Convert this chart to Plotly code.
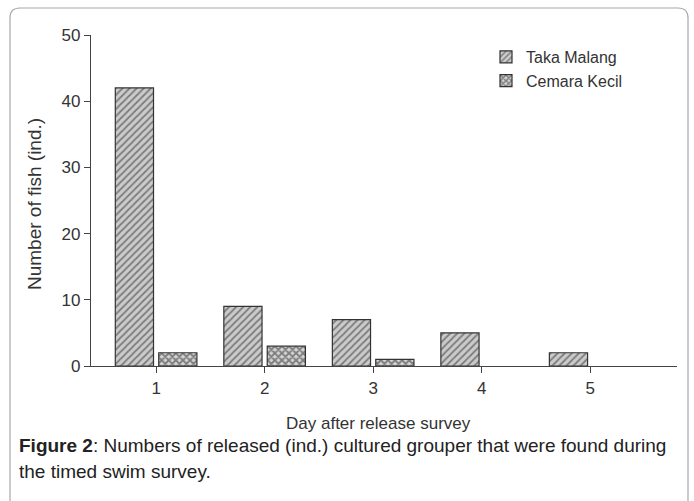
import plotly.graph_objects as go

# Survey results: fish counted on each day after release
days = [1, 2, 3, 4, 5]
taka_malang = [42, 9, 7, 5, 2]
cemara_kecil = [2, 3, 1, 0, 0]
y_ticks = [0, 10, 20, 30, 40, 50]

W, H = 694, 501
L, R, T, B = 91, 17, 35, 135
pw, ph = W - L - R, H - T - B


def px(x):
    return (x - L) / pw


def py(y):
    return (H - B - y) / ph


def outline(values):
    # no outline on empty bars so nothing shows along the axis
    return [1.2 if v > 0 else 0 for v in values]


font = "Liberation Sans, Arial, sans-serif"
ink = "#333333"

fig = go.Figure()
fig.add_trace(go.Bar(
    x=days, y=taka_malang, name="Taka Malang",
    marker=dict(color="#c9c9c9",
                line=dict(color="#333333", width=outline(taka_malang)),
                pattern=dict(shape="/", fgcolor="#2e2e2e", bgcolor="#cbcbcb",
                             size=5, solidity=0.35)),
))
fig.add_trace(go.Bar(
    x=days, y=cemara_kecil, name="Cemara Kecil",
    marker=dict(color="#b0b0b0",
                line=dict(color="#333333", width=outline(cemara_kecil)),
                pattern=dict(shape="x", fgcolor="#262626", bgcolor="#d4d4d4",
                             size=5, solidity=0.6)),
))

# Rounded frame around the figure panel (open at the bottom)
x0, x1 = px(10), px(688)
yt, yb = py(8), py(520)
rx, ry = 10 / pw, 10 / ph
frame = (f"M{x0},{yb} L{x0},{yt - ry} Q{x0},{yt} {x0 + rx},{yt} "
         f"L{x1 - rx},{yt} Q{x1},{yt} {x1},{yt - ry} L{x1},{yb}")
fig.add_shape(type="path", path=frame, xref="paper", yref="paper",
              line=dict(color="#a8a8a8", width=1.2), layer="below")

fig.add_annotation(
    x=px(17), y=py(445), xref="paper", yref="paper", xanchor="left", yanchor="middle",
    showarrow=False, align="left",
    text="<b>Figure 2</b>: Numbers of released (ind.) cultured grouper that were found during",
    font=dict(family=font, size=19, color="#222222"),
)
fig.add_annotation(
    x=px(17), y=py(471), xref="paper", yref="paper", xanchor="left", yanchor="middle",
    showarrow=False, align="left",
    text="the timed swim survey.",
    font=dict(family=font, size=19, color="#222222"),
)
fig.add_annotation(
    x=px(378), y=py(423), xref="paper", yref="paper", xanchor="center", yanchor="middle",
    showarrow=False, text="Day after release survey",
    font=dict(family=font, size=17, color=ink),
)
fig.add_annotation(
    x=px(34), y=py(204), xref="paper", yref="paper", xanchor="center", yanchor="middle",
    showarrow=False, text="Number of fish (ind.)", textangle=-90,
    font=dict(family=font, size=19, color=ink),
)

fig.update_layout(
    width=W, height=H,
    margin=dict(l=L, r=R, t=T, b=B),
    paper_bgcolor="white", plot_bgcolor="white",
    barmode="group", bargap=0.2, bargroupgap=0.12,
    font=dict(family=font, color=ink),
    showlegend=True,
    legend=dict(x=px(486), y=py(40), xanchor="left", yanchor="top",
                bgcolor="rgba(0,0,0,0)", font=dict(family=font, size=16, color=ink),
                itemwidth=30, tracegroupgap=0),
    xaxis=dict(range=[0.4, 5.8], tickvals=days, ticks="outside", ticklen=6,
               tickcolor="#444444", showline=True, linecolor="#444444", linewidth=1.2,
               showgrid=False, zeroline=False, tickfont=dict(size=17, color=ink)),
    yaxis=dict(range=[0, 50], tickvals=y_ticks, ticks="outside", ticklen=6,
               tickcolor="#444444", showline=True, linecolor="#444444", linewidth=1.2,
               showgrid=False, zeroline=False, tickfont=dict(size=17, color=ink)),
)

fig.write_html("out.html")
